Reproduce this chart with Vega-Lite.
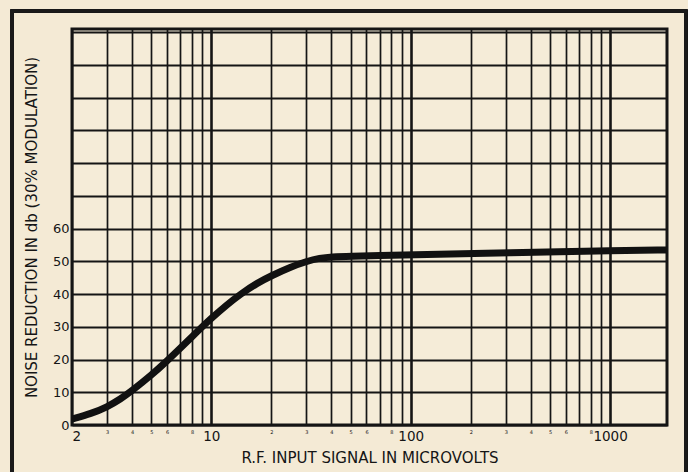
{
  "$schema": "https://vega.github.io/schema/vega-lite/v6.json",
  "width": 595,
  "height": 396,
  "autosize": {"type": "none"},
  "padding": {"left": 72, "top": 29, "right": 21, "bottom": 47},
  "background": "#f4ead5",
  "config": {
    "view": {"stroke": "#151515", "strokeWidth": 3, "fill": "#f5ecd8"},
    "font": "DejaVu Sans",
    "axisX": {
      "values": [2, 3, 4, 5, 6, 7, 8, 9, 10, 20, 30, 40, 50, 60, 70, 80, 90, 100, 200, 300, 400, 500, 600, 700, 800, 900, 1000],
      "labelExpr": "indexof([2,10,100,1000,3,4,5,6,8], datum.value) >= 0 ? toString(datum.value) : indexof([20,30,40,50,60,80], datum.value) >= 0 ? toString(datum.value/10) : indexof([200,300,400,500,600,800], datum.value) >= 0 ? toString(datum.value/100) : ''",
      "labelFontSize": {"condition": {"test": "indexof([2,10,100,1000], datum.value) >= 0", "value": 13.5}, "value": 5},
      "labelOverlap": false,
      "labelPadding": 4,
      "labelColor": "#151515",
      "grid": true,
      "gridColor": "#151515",
      "gridOpacity": 1,
      "gridWidth": {"condition": {"test": "indexof([10,100,1000], datum.value) >= 0", "value": 2.6}, "value": 1.7},
      "ticks": false,
      "domain": false,
      "titleFontSize": 15,
      "titleFontWeight": "normal",
      "titleColor": "#151515",
      "titlePadding": 8
    },
    "axisY": {
      "values": [0, 10, 20, 30, 40, 50, 60, 70, 80, 90, 100, 110],
      "labelExpr": "datum.value <= 60 ? toString(datum.value) : ''",
      "labelFontSize": 13,
      "labelOverlap": false,
      "labelPadding": 3,
      "labelColor": "#151515",
      "grid": true,
      "gridColor": "#151515",
      "gridOpacity": 1,
      "gridWidth": 1.8,
      "ticks": false,
      "domain": false,
      "titleFontSize": 15,
      "titleFontWeight": "normal",
      "titleColor": "#151515",
      "titlePadding": 13
    }
  },
  "data": {
    "values": [
      {"uv": 2, "db": 1.8},
      {"uv": 2.5, "db": 3.5},
      {"uv": 3, "db": 5.5},
      {"uv": 3.5, "db": 7.9},
      {"uv": 4, "db": 10.5},
      {"uv": 5, "db": 15.2},
      {"uv": 6, "db": 19.6},
      {"uv": 7, "db": 23.5},
      {"uv": 8, "db": 27.0},
      {"uv": 9, "db": 30.0},
      {"uv": 10, "db": 32.6},
      {"uv": 12, "db": 36.8},
      {"uv": 14, "db": 40.0},
      {"uv": 17, "db": 43.4},
      {"uv": 20, "db": 45.6},
      {"uv": 25, "db": 48.3},
      {"uv": 30, "db": 50.0},
      {"uv": 35, "db": 51.0},
      {"uv": 40, "db": 51.4},
      {"uv": 50, "db": 51.6},
      {"uv": 70, "db": 51.8},
      {"uv": 100, "db": 52.0},
      {"uv": 200, "db": 52.4},
      {"uv": 500, "db": 52.9},
      {"uv": 1000, "db": 53.3},
      {"uv": 1930, "db": 53.5}
    ]
  },
  "layer": [
    {
      "mark": {"type": "line", "color": "#111111", "strokeWidth": 7, "strokeCap": "round", "strokeJoin": "round", "interpolate": "basis", "clip": true},
      "encoding": {
        "x": {
          "field": "uv",
          "type": "quantitative",
          "scale": {"type": "log", "domain": [2, 1930], "nice": false},
          "axis": {"title": "R.F. INPUT SIGNAL IN MICROVOLTS"}
        },
        "y": {
          "field": "db",
          "type": "quantitative",
          "scale": {"domain": [0, 121], "nice": false, "zero": false},
          "axis": {"title": "NOISE REDUCTION IN db (30% MODULATION)"}
        }
      }
    },
    {
      "mark": {"type": "rect", "filled": false, "clip": false, "stroke": "#1a1a1a", "strokeWidth": 2.5},
      "encoding": {
        "x": {"datum": 1.0, "type": "quantitative", "scale": {"type": "log", "domain": [2, 1930], "nice": false}, "axis": {"title": "R.F. INPUT SIGNAL IN MICROVOLTS"}},
        "x2": {"datum": 2404},
        "y": {"datum": 126.5, "type": "quantitative", "scale": {"domain": [0, 121], "nice": false, "zero": false}, "axis": {"title": "NOISE REDUCTION IN db (30% MODULATION)"}},
        "y2": {"datum": -20}
      }
    }
  ]
}
